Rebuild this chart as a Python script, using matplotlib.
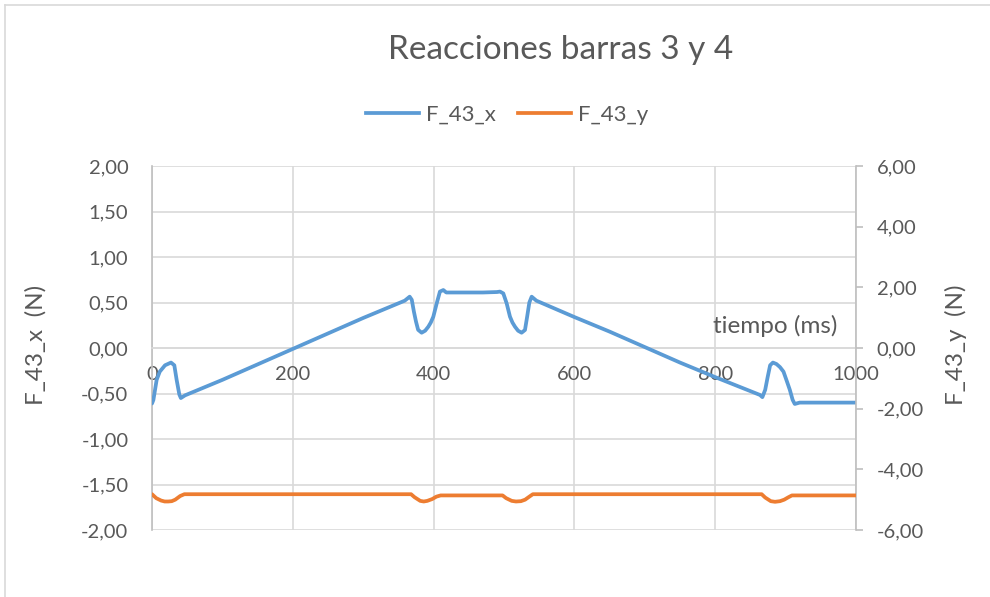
import matplotlib
matplotlib.use("Agg")
import matplotlib.pyplot as plt
from matplotlib.ticker import FuncFormatter
from matplotlib.lines import Line2D

# ---------------- data ----------------
t_x = [0, 2, 6.6, 11, 18.5, 27, 31.7, 35, 38.8, 41, 47,
       100, 150, 200, 250, 300, 359,
       366, 369, 372, 375, 378, 383, 388, 392.5, 396, 399.6, 404.4, 409, 413.8, 418,
       440, 470, 490, 494.3, 499, 503.8, 508.5, 512, 515.6, 520, 525, 529.8, 533, 536, 539.3, 546,
       600, 650, 700, 750, 800, 863.6,
       867, 871, 874.5, 878, 882, 887, 892, 897, 902, 906, 910, 913, 920, 1000]
f43_x = [-0.61, -0.57, -0.35, -0.26, -0.19, -0.16, -0.19, -0.35, -0.51, -0.55, -0.52,
         -0.35, -0.18, -0.01, 0.16, 0.33, 0.52,
         0.564, 0.53, 0.40, 0.29, 0.20, 0.168, 0.19, 0.234, 0.28, 0.344, 0.49, 0.62, 0.637, 0.61,
         0.61, 0.61, 0.615, 0.62, 0.60, 0.49, 0.344, 0.28, 0.234, 0.19, 0.168, 0.198, 0.35, 0.50, 0.564, 0.52,
         0.34, 0.18, 0.01, -0.16, -0.32, -0.516,
         -0.54, -0.46, -0.32, -0.19, -0.16, -0.176, -0.21, -0.26, -0.37, -0.46, -0.57, -0.615, -0.60, -0.60]

t_y = [0, 6, 13, 18, 23, 28, 33, 40, 46,
       100, 200, 300, 368,
       373, 381, 386, 391, 398, 404, 410,
       450, 498,
       503, 511, 517, 524, 530, 536, 541,
       600, 700, 800, 866,
       871, 879, 885, 892, 898, 904, 909, 1000]
f43_y = [-4.82, -4.95, -5.03, -5.06, -5.06, -5.05, -5.0, -4.88, -4.82,
         -4.82, -4.82, -4.82, -4.82,
         -4.92, -5.04, -5.06, -5.04, -4.98, -4.90, -4.86,
         -4.86, -4.86,
         -4.95, -5.04, -5.06, -5.05, -5.0, -4.90, -4.82,
         -4.82, -4.82, -4.82, -4.82,
         -4.93, -5.05, -5.07, -5.05, -5.0, -4.92, -4.86, -4.86]

x_ticks = [0, 200, 400, 600, 800, 1000]
left_ticks = [-2.0, -1.5, -1.0, -0.5, 0.0, 0.5, 1.0, 1.5, 2.0]
right_ticks = [-6, -4, -2, 0, 2, 4, 6]

title = "Reacciones barras 3 y 4"
name_x = "F_43_x"
name_y = "F_43_y"
xlabel = "tiempo (ms)"
ylabel_left = "F_43_x  (N)"
ylabel_right = "F_43_y  (N)"

# ---------------- style ----------------
plt.rcParams['font.family'] = ['Lato', 'DejaVu Sans']
TXT = '#595959'
GRID = '#D9D9D9'
SPINE = '#BFBFBF'
BLUE = '#5B9BD5'
ORANGE = '#ED7D31'
FS = 14.5
FS_AX = 17.5
LW = 2.7

W, H = 990, 597
fig = plt.figure(figsize=(W / 100, H / 100), dpi=100)
ax = fig.add_axes([152 / W, 1 - 530 / H, (856 - 152) / W, (530 - 166) / H])
ax2 = ax.twinx()

ax.plot(t_x, f43_x, color=BLUE, lw=LW, solid_capstyle='round', solid_joinstyle='round', zorder=3)
ax2.plot(t_y, f43_y, color=ORANGE, lw=LW, solid_capstyle='round', solid_joinstyle='round', zorder=3)

ax.set_xlim(0, 1000)
ax.set_ylim(-2, 2)
ax2.set_ylim(-6, 6)

fmt = FuncFormatter(lambda v, p: f"{v:.2f}".replace('.', ','))
ax.set_yticks(left_ticks)
ax.yaxis.set_major_formatter(fmt)
ax2.set_yticks(right_ticks)
ax2.yaxis.set_major_formatter(fmt)
ax.set_xticks(x_ticks)
ax.set_xticklabels([str(v) for v in x_ticks])

ax.grid(True, color=GRID, lw=1.2, zorder=0)
ax.set_axisbelow(True)

for s in ['top']:
    ax.spines[s].set_visible(False)
    ax2.spines[s].set_visible(False)
ax.spines['bottom'].set_position(('data', 0))
ax.spines['bottom'].set_color(GRID)
ax.spines['bottom'].set_linewidth(1.2)
ax.spines['left'].set_color(SPINE)
ax.spines['left'].set_linewidth(1.2)
ax.spines['right'].set_visible(False)
ax2.spines['left'].set_visible(False)
ax2.spines['bottom'].set_visible(False)
ax2.spines['right'].set_color(SPINE)
ax2.spines['right'].set_linewidth(1.2)

ax.tick_params(axis='y', length=0, pad=17, labelsize=FS, labelcolor=TXT)
ax.tick_params(axis='x', length=0, pad=13, labelsize=FS, labelcolor=TXT)
ax2.tick_params(axis='y', length=5, width=1.2, color=SPINE, pad=10, labelsize=FS, labelcolor=TXT)

ax.text(885, 0.24, xlabel, ha='center', va='center', fontsize=FS_AX, color=TXT)

fig.text(36 / W, 1 - 345 / H, ylabel_left, rotation=90, ha='center', va='center', fontsize=FS_AX, color=TXT)
fig.text(956 / W, 1 - 345 / H, ylabel_right, rotation=90, ha='center', va='center', fontsize=FS_AX, color=TXT)

fig.text(561 / W, 1 - 50 / H, title, ha='center', va='center', fontsize=24, color=TXT)

handles = [Line2D([], [], color=BLUE, lw=LW), Line2D([], [], color=ORANGE, lw=LW)]
fig.legend(handles, [name_x, name_y], loc='center', bbox_to_anchor=(507 / W, 1 - 115 / H),
           ncol=2, frameon=False, fontsize=16, labelcolor=TXT, handlelength=2.4,
           handletextpad=0.3, columnspacing=1.0)

# chart border
fig.add_artist(Line2D([5 / W, 5 / W], [0, 1 - 5 / H], transform=fig.transFigure, color=GRID, lw=1.2))
fig.add_artist(Line2D([5 / W, 1], [1 - 5 / H, 1 - 5 / H], transform=fig.transFigure, color=GRID, lw=1.2))

fig.savefig("out.png", dpi=100, facecolor='white')
